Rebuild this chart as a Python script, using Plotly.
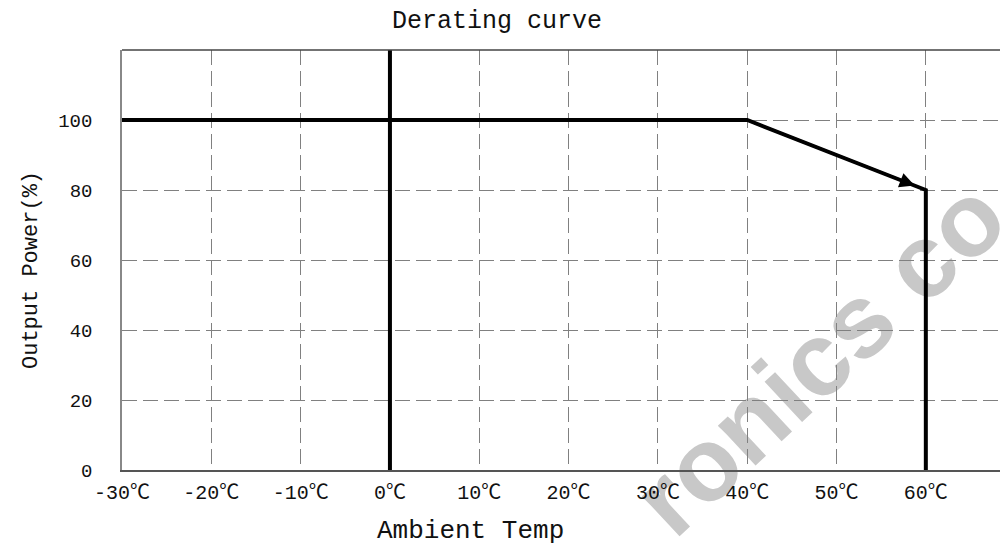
import plotly.graph_objects as go

# data
curve_temp = [-30, 40, 60, 60]
curve_power = [100, 100, 80, 0]
zero_line_temp = [0, 0]
zero_line_power = [0, 120]
x_ticks = [-30, -20, -10, 0, 10, 20, 30, 40, 50, 60]
x_tick_labels = ["-30℃", "-20℃", "-10℃", "0℃", "10℃", "20℃", "30℃", "40℃", "50℃", "60℃"]
y_ticks = [0, 20, 40, 60, 80, 100]
y_tick_labels = ["0", "20", "40", "60", "80", "100"]
arrow_from = (40, 100)
arrow_to = (60, 80)

MONO = "Liberation Mono, Noto Sans CJK SC, monospace"

# page layout (browser body has 8px margin)
PL, PR, PT, PB = 122, 1008, 50, 470
PW, PH = PR - PL, PB - PT


def px(x):
    return (x - PL) / PW


def py(y):
    return (PB - y) / PH


fig = go.Figure()
fig.add_trace(go.Scatter(x=zero_line_temp, y=zero_line_power, mode="lines",
                         line=dict(color="black", width=4), hoverinfo="skip"))
fig.add_trace(go.Scatter(x=curve_temp, y=curve_power, mode="lines",
                         line=dict(color="black", width=4), hoverinfo="skip"))

fig.add_annotation(x=arrow_to[0], y=arrow_to[1], ax=arrow_from[0], ay=arrow_from[1],
                   xref="x", yref="y", axref="x", ayref="y", text="",
                   showarrow=True, arrowhead=2, arrowsize=1.2, arrowwidth=2.5,
                   arrowcolor="black", standoff=12)

# titles
fig.add_annotation(text="Derating curve", xref="paper", yref="paper",
                   x=px(497), y=py(21), xanchor="center", yanchor="middle",
                   showarrow=False, font=dict(family=MONO, size=25, color="#111"))
fig.add_annotation(text="Ambient Temp", xref="paper", yref="paper",
                   x=px(470), y=py(531), xanchor="center", yanchor="middle",
                   showarrow=False, font=dict(family=MONO, size=26, color="#111"))
fig.add_annotation(text="Output Power(%)", xref="paper", yref="paper",
                   x=px(31), y=py(270), xanchor="center", yanchor="middle",
                   textangle=-90, showarrow=False, font=dict(family=MONO, size=22, color="#111"))

# watermark
cx, cy = px(812), py(350)
fig.add_shape(type="rect", xref="paper", yref="paper",
              x0=cx - 0.1, x1=cx + 0.1, y0=cy - 0.1, y1=cy + 0.1, line=dict(width=0),
              fillcolor="rgba(0,0,0,0)", layer="below",
              label=dict(text="ronics co", textangle=-43, textposition="middle center",
                         font=dict(family="Liberation Sans, Arial", size=104,
                                   color="#c8c8c8", weight="bold")))

fig.update_xaxes(range=[-30, 69.2], tickvals=x_ticks, ticktext=x_tick_labels,
                 showgrid=True, gridcolor="#808080", gridwidth=1, griddash="15px,6px",
                 zeroline=False, showline=True, linecolor="#555555", linewidth=2,
                 mirror=False, ticks="outside", ticklen=3, tickcolor="rgba(0,0,0,0)",
                 automargin=False,
                 tickfont=dict(family=MONO, size=20, color="#111"))
fig.update_yaxes(range=[0, 120], tickvals=y_ticks, ticktext=y_tick_labels,
                 showgrid=True, gridcolor="#808080", gridwidth=1, griddash="15px,6px",
                 zeroline=False, showline=True, linecolor="#888888", linewidth=1.5,
                 ticks="outside", ticklen=24, tickcolor="rgba(0,0,0,0)",
                 automargin=False,
                 tickfont=dict(family=MONO, size=19, color="#111"))

# top border
fig.add_shape(type="line", xref="paper", yref="paper", x0=0, x1=1, y0=1, y1=1,
              line=dict(color="#444444", width=1.5))

fig.update_layout(width=1000, height=540,
                  margin=dict(l=PL - 8, r=0, t=PT - 8, b=540 - (PB - 8)),
                  plot_bgcolor="white", paper_bgcolor="white", showlegend=False)

fig.write_html("out.html")
